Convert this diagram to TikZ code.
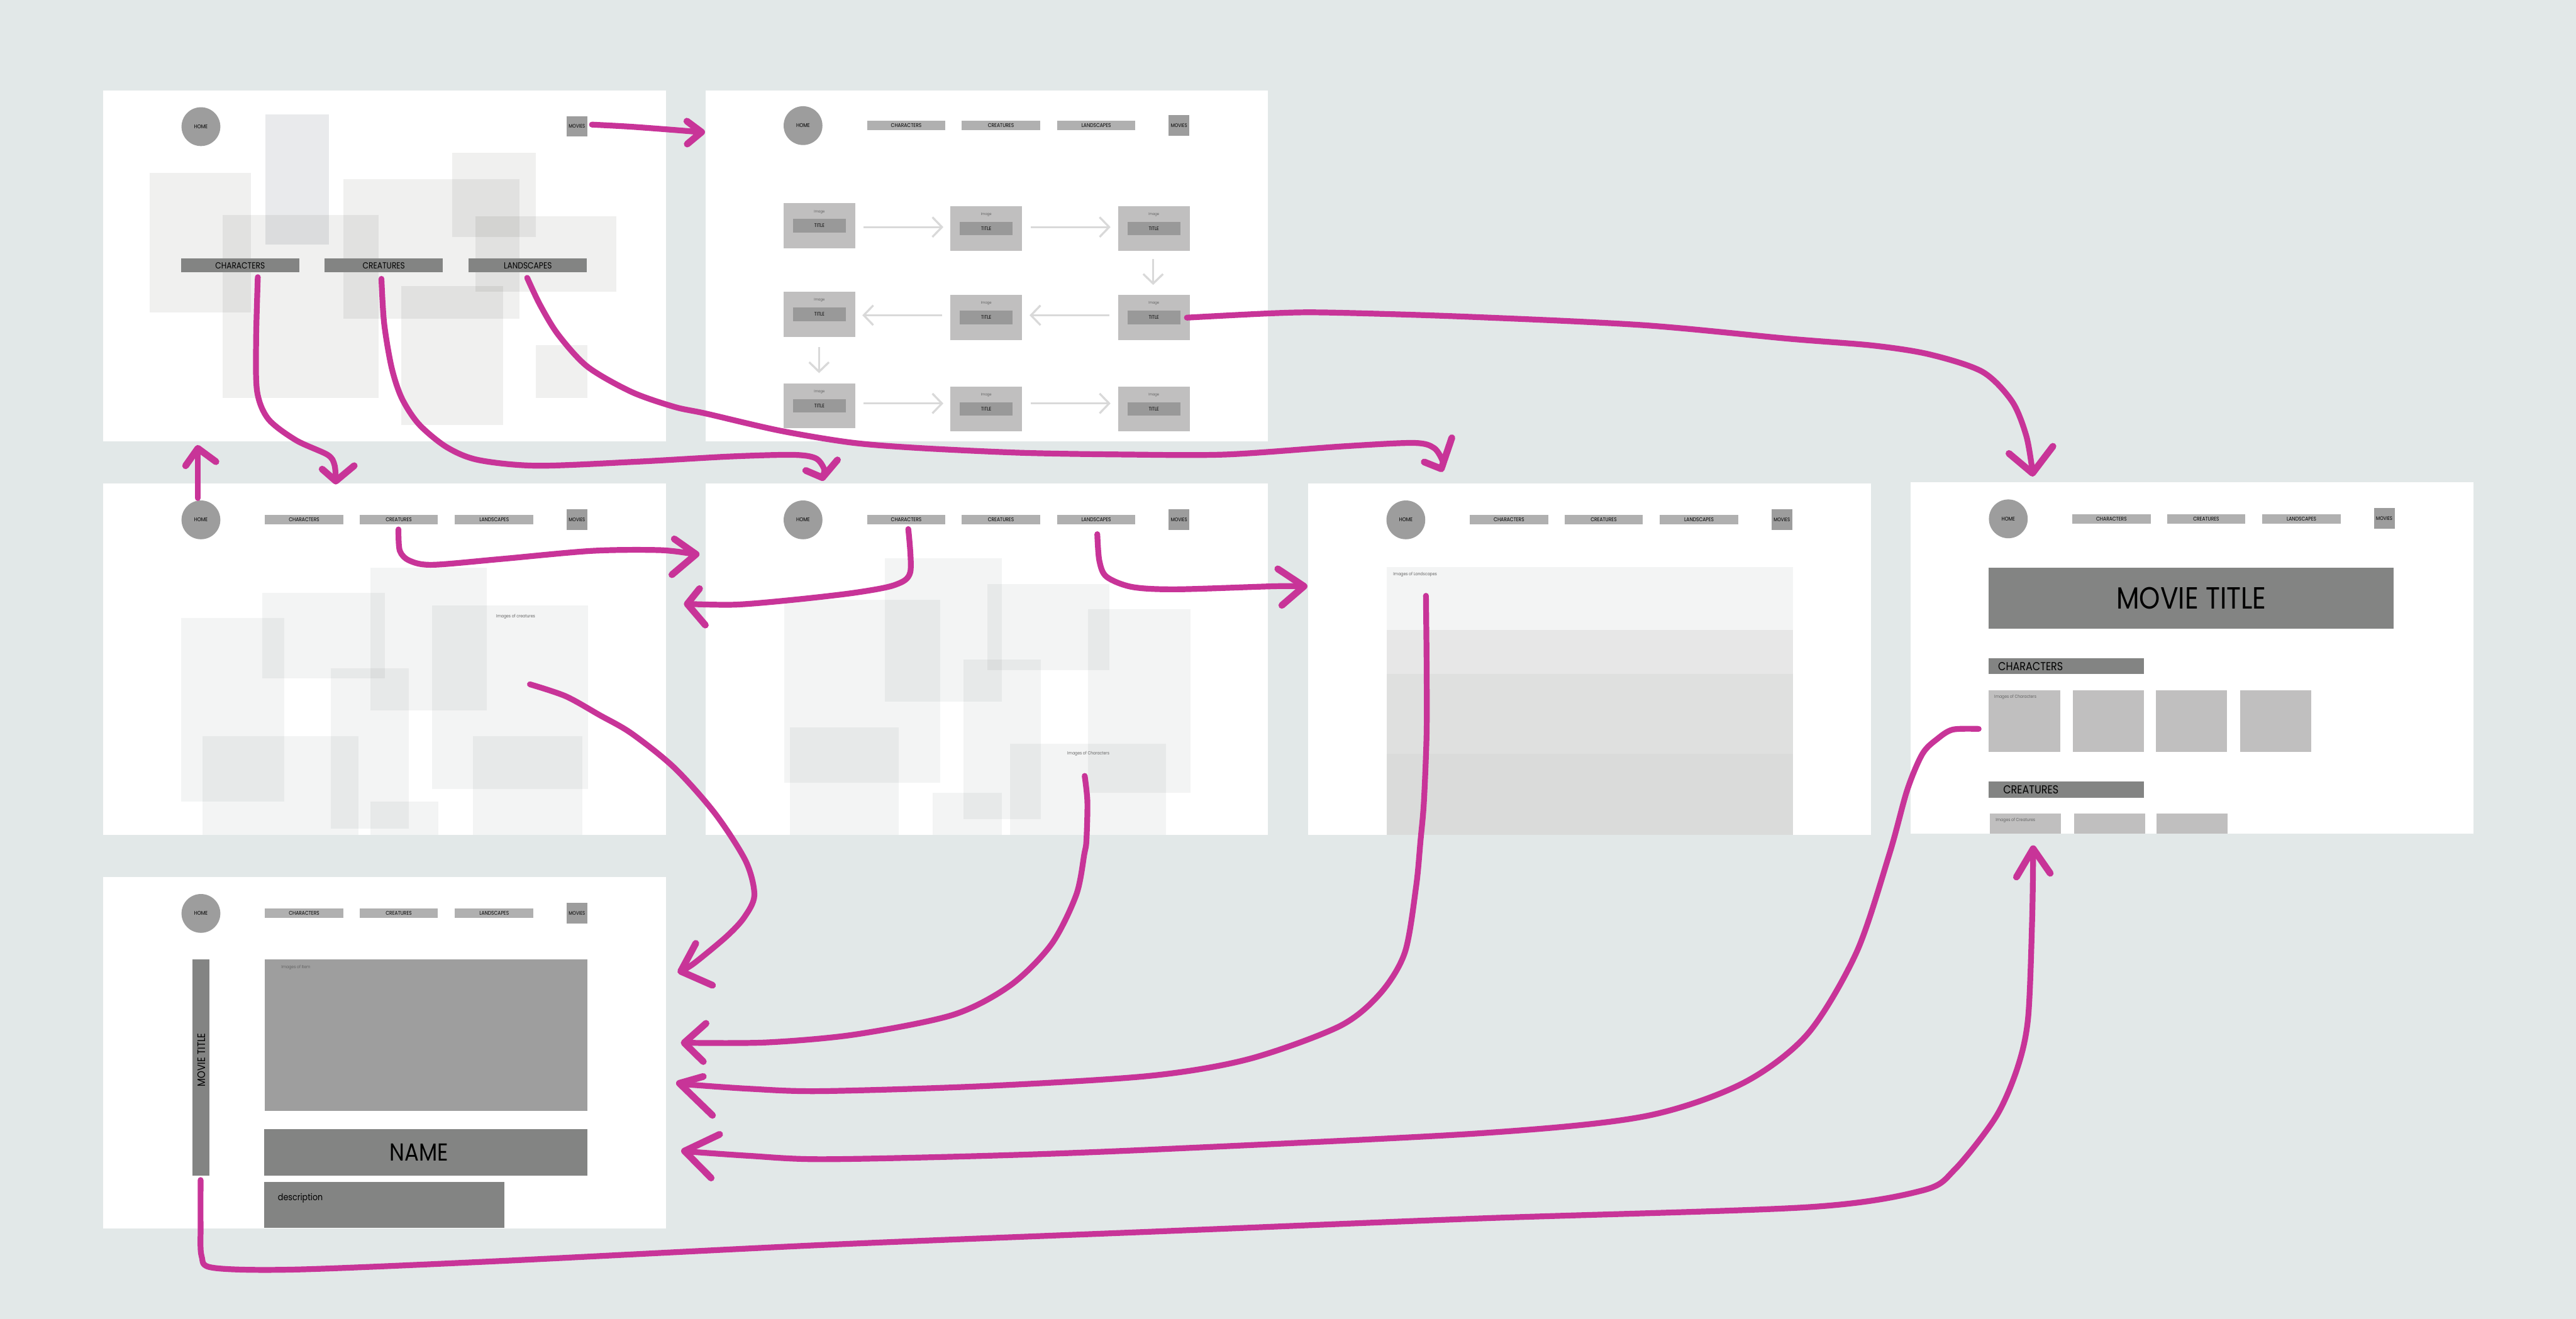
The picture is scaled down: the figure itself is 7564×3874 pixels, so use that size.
\documentclass[tikz,border=0pt]{standalone}
\usepackage{fontspec}
\setmainfont{Poppins}[FakeStretch=0.87]
\usetikzlibrary{arrows.meta}
\definecolor{bgc}{RGB}{226,232,232}
\definecolor{homegray}{RGB}{157,157,157}
\definecolor{navgray}{RGB}{176,176,176}
\definecolor{darkbar}{RGB}{131,132,131}
\definecolor{cardc}{RGB}{192,191,191}
\definecolor{titlec}{RGB}{153,153,153}
\definecolor{arrgray}{RGB}{217,217,217}
\definecolor{imgbig}{RGB}{158,158,158}
\definecolor{mag}{RGB}{200,52,152}
\definecolor{ghostA}{RGB}{240,240,239}
\definecolor{ghostB}{RGB}{233,234,236}
\definecolor{ghostC}{RGB}{243,244,244}
\definecolor{bandA}{RGB}{243,244,244}
\definecolor{bandB}{RGB}{231,231,231}
\definecolor{bandC}{RGB}{223,224,223}
\definecolor{bandD}{RGB}{218,219,218}
\definecolor{labgray}{RGB}{100,100,100}
\newcommand{\myfs}[1]{\fontsize{#1}{#1}\selectfont}
\tikzset{
  panel/.style={fill=white, draw=none, anchor=north west, minimum width=1652pt, minimum height=1032pt, inner sep=0pt},
  homec/.style={circle, fill=homegray, minimum size=114pt, inner sep=0pt, font=\myfs{16}},
  navb/.style={fill=navgray, minimum width=230pt, minimum height=28pt, inner sep=0pt, font=\myfs{16}},
  movb/.style={fill=homegray, minimum width=61pt, minimum height=60pt, inner sep=0pt, font=\myfs{15}},
  bigb/.style={fill=darkbar, minimum width=347pt, minimum height=41pt, inner sep=0pt, font=\myfs{26}},
  cardbox/.style={fill=cardc, minimum width=210pt, minimum height=132pt, inner sep=0pt},
  titleb/.style={fill=titlec, minimum width=155pt, minimum height=40pt, inner sep=0pt, font=\myfs{15}},
  imglab/.style={font=\myfs{11}, text=labgray, inner sep=0pt},
  smalllab/.style={font=\myfs{13}, text=labgray, inner sep=0pt, anchor=west},
  garrow/.style={draw=arrgray, line width=6pt, -{Straight Barb[length=28pt,width=58pt]}},
  pen/.style={draw=mag, line width=17pt, line cap=round, line join=round},
  penhead/.style={draw=mag, line width=20pt, line cap=round, line join=round},
}
\newcommand{\navbar}[3]{%
  \node[homec] (#1-home) at (#2+287,#3+107) {HOME};
  \node[navb] (#1-chars) at (#2+590,#3+107) {CHARACTERS};
  \node[navb] (#1-crea) at (#2+868,#3+107) {CREATURES};
  \node[navb] (#1-land) at (#2+1148,#3+107) {LANDSCAPES};
  \node[movb] (#1-mov) at (#2+1391,#3+106) {MOVIES};
}
\newcommand{\card}[3]{%
  \node[cardbox, anchor=north west] (#1) at (#2,#3) {};
  \node[imglab] (#1-img) at (#2+105,#3+25) {Image};
  \node[titleb] (#1-t) at (#2+105,#3+66) {TITLE};
}
\begin{document}
\begin{tikzpicture}[x=1pt,y=-1pt]
\useasboundingbox (0,0) rectangle (7564,3874);
\fill[bgc] (0,0) rectangle (7564,3874);
% panels
\node[panel] (A) at (303,265) {};
\node[panel] (B) at (2071,265) {};
\node[panel] (C) at (303,1420) {};
\node[panel] (D) at (2071,1420) {};
\node[panel] (E) at (3841,1420) {};
\node[panel] (F) at (5610,1417) {};
\node[panel] (G) at (303,2576) {};
% ghost rectangles
\begin{scope}[blend mode=multiply]
  \fill[ghostB] (779,336) rectangle (966,719);
  \fill[ghostA] (439,508) rectangle (737,918);
  \fill[ghostA] (654,632) rectangle (1112,1169);
  \fill[ghostA] (1009,527) rectangle (1526,937);
  \fill[ghostA] (1327,448) rectangle (1574,696);
  \fill[ghostA] (1396,636) rectangle (1809,857);
  \fill[ghostA] (1179,840) rectangle (1477,1249);
  \fill[ghostA] (1573,1013) rectangle (1724,1169);
  % C
  \fill[ghostC] (1087,1667) rectangle (1430,2086);
  \fill[ghostC] (770,1742) rectangle (1130,1993);
  \fill[ghostC] (532,1816) rectangle (835,2355);
  \fill[ghostC] (971,1963) rectangle (1200,2433);
  \fill[ghostC] (1269,1778) rectangle (1727,2317);
  \fill[ghostC] (594,2163) rectangle (1052,2452);
  \fill[ghostC] (1389,2163) rectangle (1710,2452);
  \fill[ghostC] (1087,2355) rectangle (1288,2452);
  % D
  \fill[ghostC] (2599,1640) rectangle (2941,2060);
  \fill[ghostC] (2899,1715) rectangle (3258,1968);
  \fill[ghostC] (2302,1761) rectangle (2760,2300);
  \fill[ghostC] (3194,1790) rectangle (3496,2328);
  \fill[ghostC] (2829,1937) rectangle (3057,2406);
  \fill[ghostC] (2319,2137) rectangle (2639,2452);
  \fill[ghostC] (2965,2184) rectangle (3424,2452);
  \fill[ghostC] (2739,2328) rectangle (2941,2452);
\end{scope}
% panel A content
\node[homec] (A-home) at (590,372) {HOME};
\node[movb] (A-mov) at (1694,371) {MOVIES};
\node[bigb] (A-chars) at (705,780) {CHARACTERS};
\node[bigb] (A-crea) at (1127,780) {CREATURES};
\node[bigb] (A-land) at (1550,780) {LANDSCAPES};
% panel B
\navbar{B}{2071}{262}
\card{b11}{2301}{597}
\card{b12}{2791}{605}
\card{b13}{3283}{605}
\card{b21}{2301}{857}
\card{b22}{2791}{866}
\card{b23}{3283}{866}
\card{b31}{2301}{1126}
\card{b32}{2791}{1135}
\card{b33}{3283}{1135}
\draw[garrow] (2536,667) -- (2770,667);
\draw[garrow] (3026,667) -- (3261,667);
\draw[garrow] (3386,761) -- (3386,837);
\draw[garrow] (3258,926) -- (3023,926);
\draw[garrow] (2767,926) -- (2532,926);
\draw[garrow] (2405,1020) -- (2405,1096);
\draw[garrow] (2536,1185) -- (2770,1185);
\draw[garrow] (3026,1185) -- (3261,1185);
% panel C
\navbar{C}{303}{1420}
\node[smalllab] (C-lab) at (1457,1812) {Images of creatures};
% panel D
\navbar{D}{2071}{1420}
\node[smalllab] (D-lab) at (3134,2214) {Images of Characters};
% panel E
\navbar{E}{3841}{1420}
\fill[bandA] (4071,1665) rectangle (5265,1851);
\fill[bandB] (4071,1851) rectangle (5265,1979);
\fill[bandC] (4071,1979) rectangle (5265,2214);
\fill[bandD] (4071,2214) rectangle (5265,2452);
\node[smalllab] (E-lab) at (4091,1688) {Images of Landscapes};
% panel F
\navbar{F}{5610}{1417}
\fill[darkbar] (5840,1667) rectangle (7029,1846);
\node[font=\myfs{90}, inner sep=0pt] (F-title) at (6434.5,1757) {MOVIE TITLE};
\fill[darkbar] (5840,1933) rectangle (6296,1980);
\node[font=\myfs{34}, inner sep=0pt, anchor=west] (F-charh) at (5867,1957) {CHARACTERS};
\fill[cardc] (5840,2027) rectangle (6049,2209);
\fill[cardc] (6087,2027) rectangle (6296,2209);
\fill[cardc] (6330,2027) rectangle (6539,2209);
\fill[cardc] (6578,2027) rectangle (6787,2209);
\node[smalllab] (F-clab) at (5856,2047) {Images of Characters};
\fill[darkbar] (5840,2296) rectangle (6296,2343);
\node[font=\myfs{34}, inner sep=0pt, anchor=west] (F-creh) at (5882,2320) {CREATURES};
\fill[cardc] (5842,2390) rectangle (6051,2448);
\fill[cardc] (6090,2390) rectangle (6299,2448);
\fill[cardc] (6333,2390) rectangle (6541,2448);
\node[smalllab] (F-crlab) at (5860,2410) {Images of Creatures};
% panel G
\navbar{G}{303}{2576}
\fill[darkbar] (565,2818) rectangle (615,3453);
\node[font=\myfs{32}, inner sep=0pt, rotate=90] (G-mt) at (591,3113) {MOVIE TITLE};
\fill[imgbig] (777,2818) rectangle (1724,3263);
\node[smalllab] (G-lab) at (826,2841) {Images of Item};
\fill[darkbar] (775,3317) rectangle (1724,3453);
\node[font=\myfs{72}, inner sep=0pt] (G-name) at (1230,3384) {NAME};
\fill[darkbar] (775,3471) rectangle (1481,3607);
\node[font=\myfs{27}, inner sep=0pt, anchor=west] (G-desc) at (816,3520) {description};
% magenta hand-drawn arrows
% 1 movies -> B
\draw[pen] plot[smooth,tension=.5] coordinates {(1738,366) (1850,372) (1983,382) (2056,388)};
\draw[penhead] (2017,356) -- (2060,388) -- (2018,423);
% 2
\draw[pen] plot[smooth,tension=.5] coordinates {(757,814) (752,1000) (755,1150) (788,1231) (869,1293) (962,1336) (982,1365) (986,1408)};
\draw[penhead] (946,1378) -- (986,1413) -- (1040,1368);
% 3
\draw[pen] plot[smooth,tension=.5] coordinates {(1120,819) (1128,950) (1150,1080) (1180,1170) (1230,1246) (1311,1313) (1404,1351) (1578,1368) (1873,1356) (2141,1341) (2328,1336) (2395,1346) (2420,1378) (2415,1400)};
\draw[penhead] (2366,1382) -- (2415,1403) -- (2459,1351);
% 4
\draw[pen] plot[smooth,tension=.5] coordinates {(1548,816) (1586,896) (1639,983) (1725,1077) (1854,1151) (1980,1195) (2074,1215) (2290,1265) (2500,1300) (2700,1316) (3000,1330) (3300,1335) (3600,1335) (3944,1311) (4151,1301) (4211,1316) (4237,1357) (4232,1375)};
\draw[penhead] (4182,1357) -- (4232,1377) -- (4263,1286);
% 5
\draw[pen] plot[smooth,tension=.5] coordinates {(3485,933) (3740,920) (3900,918) (4300,930) (4824,955) (5253,995) (5500,1015) (5666,1041) (5821,1092) (5908,1179) (5950,1281) (5968,1385)};
\draw[penhead] (5899,1332) -- (5968,1390) -- (6028,1311);
% 6 home up
\draw[pen] (581,1463) -- (581,1322);
\draw[penhead] (545,1368) -- (581,1317) -- (634,1356);
% 7
\draw[pen] plot[smooth,tension=.5] coordinates {(1170,1555) (1174,1618) (1203,1647) (1270,1659) (1471,1642) (1739,1618) (1940,1616) (2040,1628)};
\draw[penhead] (1980,1583) -- (2044,1628) -- (1973,1688);
% 8
\draw[pen] plot[smooth,tension=.5] coordinates {(2667,1554) (2673,1680) (2628,1718) (2510,1741) (2328,1762) (2160,1776) (2022,1774)};
\draw[penhead] (2054,1729) -- (2018,1774) -- (2071,1836);
% 9
\draw[pen] plot[smooth,tension=.5] coordinates {(3222,1569) (3228,1647) (3249,1694) (3324,1724) (3453,1731) (3740,1722) (3825,1722)};
\draw[penhead] (3752,1671) -- (3829,1722) -- (3764,1778);
% 10
\draw[pen] plot[smooth,tension=.5] coordinates {(1556,2010) (1661,2045) (1760,2100) (1854,2154) (1980,2255) (2100,2390) (2190,2530) (2215,2630) (2185,2695) (2133,2751) (2040,2828) (2003,2851)};
\draw[penhead] (2043,2771) -- (1999,2853) -- (2092,2894);
% 11
\draw[pen] plot[smooth,tension=.5] coordinates {(3185,2279) (3193,2356) (3190,2470) (3184,2508) (3160,2629) (3087,2774) (2967,2894) (2798,2981) (2508,3039) (2250,3062) (2013,3063)};
\draw[penhead] (2073,3006) -- (2009,3063) -- (2065,3118);
% 12
\draw[pen] plot[smooth,tension=.5] coordinates {(4187,1750) (4189,1951) (4189,2154) (4181,2356) (4171,2470) (4158,2605) (4125,2798) (4052,2919) (3932,3015) (3666,3111) (3377,3160) (2894,3190) (2412,3205) (2200,3198) (1999,3184)};
\draw[penhead] (2065,3162) -- (1995,3182) -- (2092,3276);
% 13
\draw[pen] plot[smooth,tension=.5] coordinates {(5810,2141) (5734,2143) (5689,2170) (5645,2214) (5600,2321) (5548,2508) (5451,2798) (5306,3039) (5113,3184) (4824,3280) (4342,3329) (3377,3377) (2894,3395) (2412,3405) (2200,3395) (2014,3382)};
\draw[penhead] (2113,3332) -- (2010,3381) -- (2088,3460);
% 14
\draw[pen] plot[smooth,tension=.5] coordinates {(589,3466) (589,3600) (592,3690) (627,3724) (868,3729) (1447,3705) (2412,3657) (3377,3618) (4342,3579) (5306,3546) (5644,3497) (5740,3435) (5861,3280) (5924,3136) (5955,2991) (5967,2701) (5970,2498)};
\draw[penhead] (5921,2576) -- (5970,2493) -- (6020,2565);
\end{tikzpicture}
\end{document}
